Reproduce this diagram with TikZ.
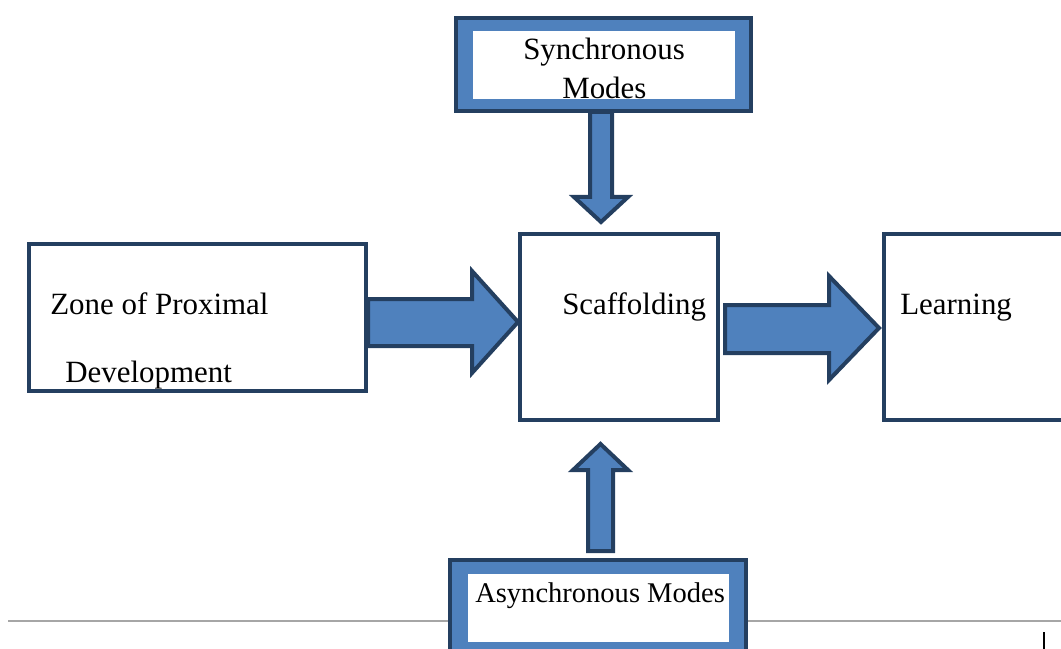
\documentclass[tikz,border=0pt]{standalone}
\usepackage{fontspec}
\setmainfont{Liberation Serif}
\definecolor{dkblue}{HTML}{243F60}
\definecolor{midblue}{HTML}{4F81BD}
\definecolor{rulegray}{HTML}{A6A6A6}
\begin{document}
\begin{tikzpicture}[x=0.75pt,y=-0.75pt,
  box/.style={draw=dkblue, line width=3pt, fill=white, inner sep=0pt},
  framebox/.style={draw=dkblue, line width=3.5pt, fill=midblue, inner sep=0pt},
  innerbox/.style={fill=white, inner sep=0pt},
  blockarrow/.style={draw=dkblue, line width=3pt, fill=midblue, line join=miter},
  lbl/.style={anchor=base west, inner sep=0pt, font=\fontsize{23.2}{28}\selectfont, text=black}]
\useasboundingbox (0,0) rectangle (1061,649);
\clip (0,0) rectangle (1061,649);

% page rule and mark
\draw[rulegray, line width=1.5pt] (8,621) -- (1061,621);
\draw[black, line width=1.3pt] (1044,632) -- (1044,649);

% boxes
\node[box, minimum width=252.75pt, minimum height=110.25pt] (zpd) at (197.5,317.5) {};
\node[box, minimum width=148.5pt, minimum height=139.5pt] (scaf) at (619,327) {};
\node[box, minimum width=147pt, minimum height=139.5pt] (learn) at (982,327) {};
\node[framebox, minimum width=221.25pt, minimum height=69.75pt] (sync) at (603.5,64.5) {};
\node[innerbox, minimum width=196.5pt, minimum height=51pt] (syncin) at (604,65) {};
\node[framebox, minimum width=222pt, minimum height=90pt] (async) at (598,620) {};
\node[innerbox, minimum width=195.75pt, minimum height=51pt] (asyncin) at (598.5,608) {};

% block arrows
\draw[blockarrow] (590,112) -- (612,112) -- (612,197) -- (628,197) -- (601,222) -- (574,197) -- (590,197) -- cycle;
\draw[blockarrow] (588,551) -- (613,551) -- (613,470) -- (628,470) -- (600.5,444) -- (573,470) -- (588,470) -- cycle;
\draw[blockarrow] (368,299) -- (472,299) -- (472,271) -- (518,322) -- (472,373) -- (472,346) -- (368,346) -- cycle;
\draw[blockarrow] (725,305) -- (829,305) -- (829,276) -- (879,328) -- (829,380) -- (829,353) -- (725,353) -- cycle;

% labels
\node[lbl] (t1) at (50,315) {Zone of Proximal};
\node[lbl] (t2) at (65,382) {Development};
\node[lbl] (t3) at (562,315) {Scaffolding};
\node[lbl] (t4) at (900,315) {Learning};
\node[lbl] (t5) at (523,60) {Synchronous};
\node[lbl] (t6) at (562,99) {Modes};
\node[lbl, font=\fontsize{21.4}{26}\selectfont] (t7) at (475,602) {Asynchronous Modes};
\end{tikzpicture}
\end{document}
